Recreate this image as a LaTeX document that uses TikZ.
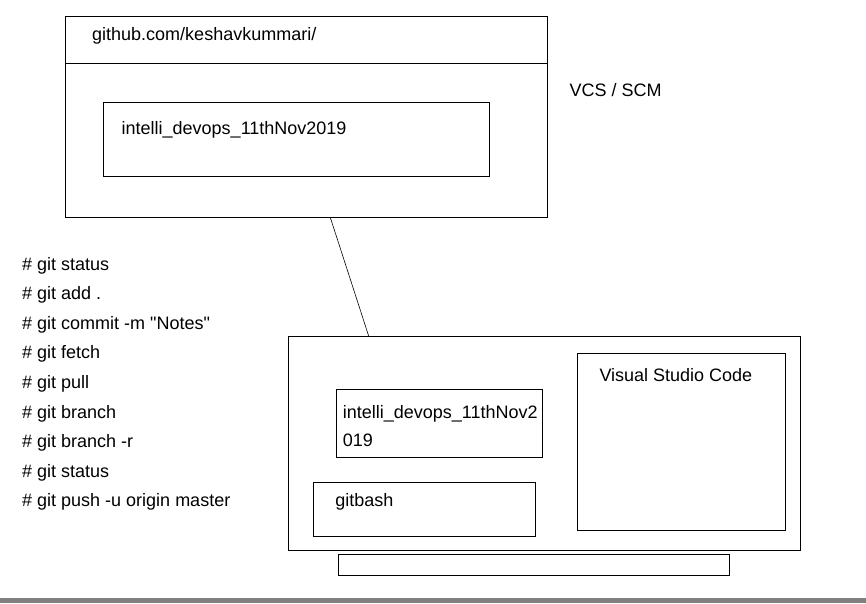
\documentclass[tikz,border=0pt]{standalone}
\usepackage{fontspec}
\setmainfont{Liberation Sans}[Ligatures=TeXOff]
\usepackage{tikz}
\usetikzlibrary{calc}
\definecolor{band_grey}{RGB}{128, 128, 128}
\tikzstyle{box}=[rectangle,draw=black,line width=1pt,inner sep=0pt,outer sep=0pt]
\tikzstyle{txt}=[anchor=base west,inner sep=0pt,font=\fontsize{18}{21}\selectfont]
\tikzstyle{none}=[]

\begin{document}
\begin{tikzpicture}[x=1pt, y=-1pt]
            \useasboundingbox (0, 0) rectangle (866, 603);
            \fill [band_grey] (0, 597.7) rectangle (866, 603);
            \node [style=box, minimum width=482.1pt, minimum height=201.3pt] (repo) at (306.25, 116.65) {};
            \node [style=box, minimum width=385.5pt, minimum height=73.7pt] (repoin) at (296.55, 139.15) {};
            \node [style=box, minimum width=512.5pt, minimum height=214pt] (laptop) at (544.55, 443.7) {};
            \node [style=box, minimum width=207.7pt, minimum height=177.4pt] (vscode) at (681.15, 442) {};
            \node [style=box, minimum width=206.7pt, minimum height=67.7pt] (local) at (439.35, 423.15) {};
            \node [style=box, minimum width=222pt, minimum height=53.7pt] (bash) at (424.7, 509.15) {};
            \node [style=box, minimum width=391pt, minimum height=21.7pt] (taskbar) at (533.5, 564.85) {};
            \node [style=txt] (url) at (92, 40) {github.com/keshavkummari/};
            \node [style=txt] (vcs) at (569.3, 96.5) {VCS / SCM};
            \node [style=txt] (reponame) at (121.5, 134) {intelli\_devops\_11thNov2019};
            \node [style=txt] (vsname) at (599.3, 381) {Visual Studio Code};
            \node [style=txt] (localname) at (342.7, 418.3) {intelli\_devops\_11thNov2};
            \node [style=txt] (localname2) at (342.7, 446.7) {019};
            \node [style=txt] (bashname) at (335.2, 506) {gitbash};
            \node [style=txt] (c1) at (22, 270) {\# git status};
            \node [style=txt] (c2) at (22, 299.6) {\# git add .};
            \node [style=txt] (c3) at (22, 329.2) {\# git commit -m "Notes"};
            \node [style=txt] (c4) at (22, 358.8) {\# git fetch};
            \node [style=txt] (c5) at (22, 388.4) {\# git pull};
            \node [style=txt] (c6) at (22, 418) {\# git branch};
            \node [style=txt] (c7) at (22, 447.6) {\# git branch -r};
            \node [style=txt] (c8) at (22, 477.2) {\# git status};
            \node [style=txt] (c9) at (22, 506.8) {\# git push -u origin master};
            \draw [line width=1pt] ([yshift=-47.3pt]repo.north west) to ([yshift=-47.3pt]repo.north east);
            \draw [line width=0.6pt] ([xshift=24pt]repo.south) to ([xshift=-175.65pt]laptop.north);
    \end{tikzpicture}
\end{document}
